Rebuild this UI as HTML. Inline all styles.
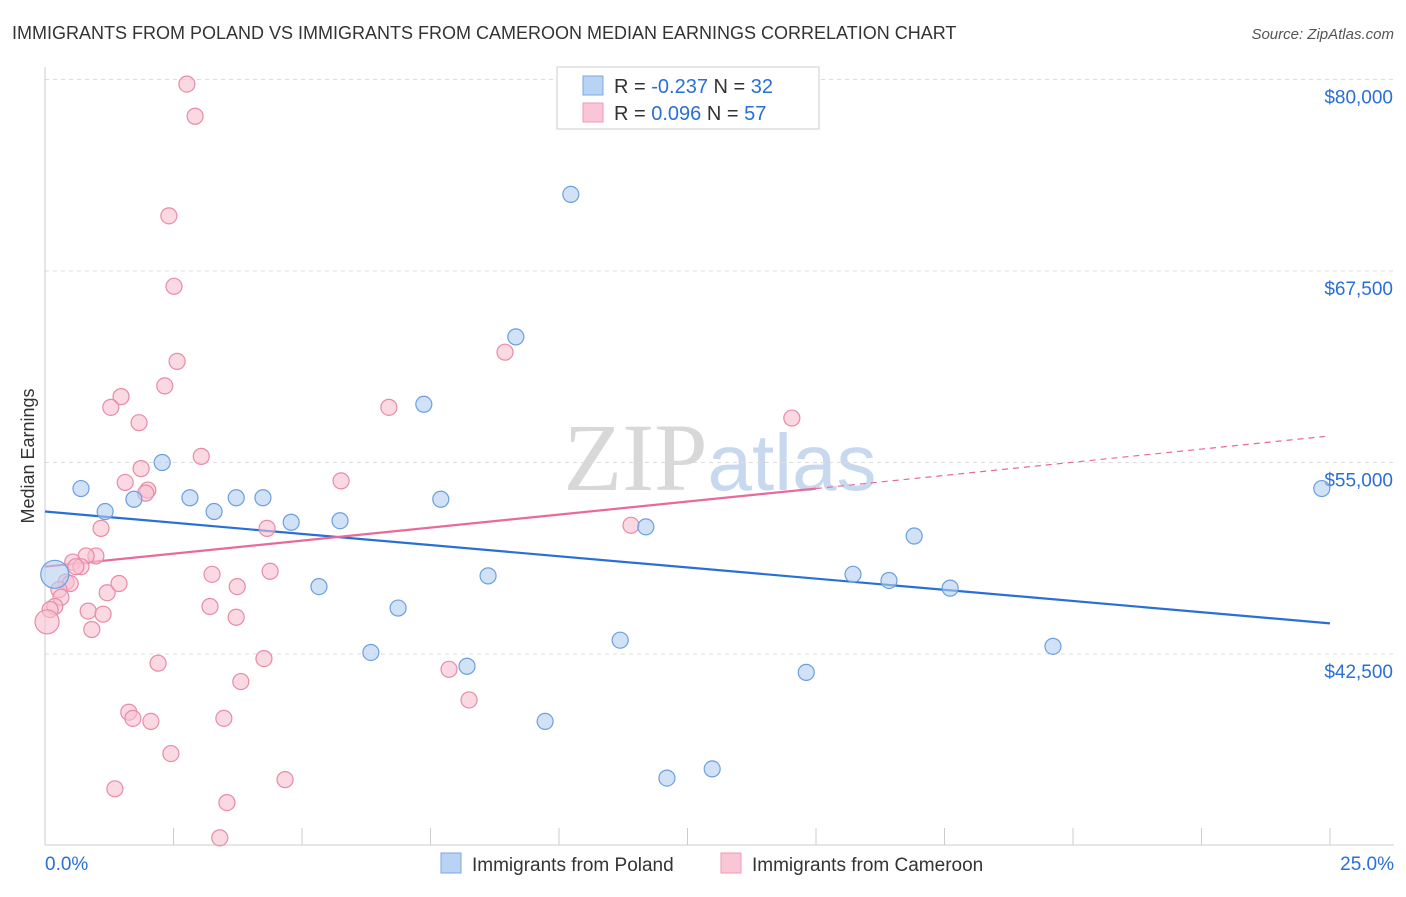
<!DOCTYPE html>
<html><head><meta charset="utf-8"><style>
body{margin:0;background:#fff;font-family:"Liberation Sans",sans-serif;}
svg text{font-family:"Liberation Sans",sans-serif;}
</style></head><body>
<svg id="chart" width="1406" height="892" viewBox="0 0 1406 892" xmlns="http://www.w3.org/2000/svg">
<text x="12" y="39" font-size="18" fill="#333">IMMIGRANTS FROM POLAND VS IMMIGRANTS FROM CAMEROON MEDIAN EARNINGS CORRELATION CHART</text>
<text x="1394" y="39" font-size="15" fill="#555" text-anchor="end" font-style="italic">Source: ZipAtlas.com</text>
<text x="720" y="490" font-size="96" fill="#ddd" text-anchor="middle" font-family="Liberation Serif"><tspan fill="#d8d8d8" font-family="Liberation Serif">ZIP</tspan><tspan fill="#c8d8ee" font-family="Liberation Sans" font-size="80">atlas</tspan></text>
<text transform="translate(34,456) rotate(-90)" font-size="18" fill="#333" text-anchor="middle">Median Earnings</text>
<g id="grid"></g><g id="axes"></g><g id="lines"></g><g id="points"></g>
<g>
<rect x="557" y="67" width="262" height="62" fill="#fff" stroke="#ccc"/>
<rect x="583" y="76" width="20" height="19" fill="#b8d3f4" stroke="#7aa8e4"/>
<rect x="583" y="103" width="20" height="19" fill="#fac6d6" stroke="#ee9ab5"/>
<text x="614" y="93" font-size="20" fill="#333">R = <tspan fill="#2a6fd6">-0.237</tspan>   N = <tspan fill="#2a6fd6">32</tspan></text>
<text x="614" y="120" font-size="20" fill="#333">R =  <tspan fill="#2a6fd6"> 0.096</tspan>   N = <tspan fill="#2a6fd6">57</tspan></text>
</g>
<g>
<rect x="441" y="853" width="20" height="20" fill="#b8d3f4" stroke="#7aa8e4"/>
<text x="472" y="871" font-size="19" fill="#333">Immigrants from Poland</text>
<rect x="721" y="853" width="20" height="20" fill="#fac6d6" stroke="#ee9ab5"/>
<text x="752" y="871" font-size="19" fill="#333">Immigrants from Cameroon</text>
</g>
</svg>
<script>
const yTicks=[42500,55000,67500,80000];
const yTickLabels=["$42,500","$55,000","$67,500","$80,000"];
const xTickLabels=["0.0%","25.0%"];
const polandX=[0.19,0.70,1.17,1.73,2.28,2.82,3.29,3.72,4.24,4.79,5.33,5.74,6.34,6.87,7.37,7.70,8.21,8.62,9.16,9.73,10.23,11.19,11.69,12.10,12.98,14.81,15.72,16.42,16.91,17.61,19.61,24.84];
const polandY=[47700,53300,51800,52600,55000,52700,51800,52700,52700,51100,46900,51200,42600,45500,58800,52600,41700,47600,63200,38100,72500,43400,50800,34400,35000,41300,47700,47300,50200,46800,43000,53300];
const cameroonX=[2.76,2.92,2.41,2.51,2.57,2.33,1.48,1.28,1.83,3.04,1.87,1.56,2.00,1.96,1.09,4.32,5.76,6.69,8.95,14.53,11.40,0.99,0.80,0.54,0.70,0.60,0.41,0.49,0.27,0.31,0.19,0.10,0.04,1.21,1.44,0.84,1.13,0.91,3.25,3.74,4.38,3.21,3.72,4.26,2.20,3.81,1.63,1.71,2.06,3.48,2.45,7.86,8.25,1.36,4.67,3.54,3.40];
const cameroonY=[79700,77600,71100,66500,61600,60000,59300,58600,57600,55400,54600,53700,53200,53000,50700,50700,53800,58600,62200,57900,50900,48900,48900,48500,48200,48200,47200,47100,46700,46200,45600,45400,44600,46500,47100,45300,45100,44100,47700,46900,47900,45600,44900,42200,41900,40700,38700,38300,38100,38300,36000,41500,39500,33700,34300,32800,30500];
const polandTrend=[[0,51800],[25,44500]];
const cameroonTrend=[[0,48200],[15,53300],[24.9,56700]];
const NS="http://www.w3.org/2000/svg";
const xs=p=>45+p*51.4;
const ys=v=>654-(v-42500)*191.5/12500;
function mk(tag,attrs,parent){const e=document.createElementNS(NS,tag);for(const k in attrs)e.setAttribute(k,attrs[k]);document.getElementById(parent).appendChild(e);return e;}
yTicks.forEach((t,i)=>{
 const g=mk('line',{x1:45,x2:1394,y1:ys(t),y2:ys(t),stroke:'#ddd','stroke-dasharray':'4,4'},'grid');
 
 
 const l=mk('text',{x:1393,y:ys(t)+24,'font-size':19,fill:'#2a6fd6','text-anchor':'end'},'axes');
 l.textContent=yTickLabels[i];
 
 
});
const ax=mk('line',{x1:45,x2:1394,y1:845,y2:845,stroke:'#ccc'},'axes');


const ay=mk('line',{x1:45,x2:45,y1:67,y2:845,stroke:'#ccc'},'axes');


for(let i=0;i<=10;i++){
 const t=mk('line',{x1:xs(i*2.5),x2:xs(i*2.5),y1:828,y2:845,stroke:'#ccc'},'axes');
 
 
}
[[0,'start',xTickLabels[0]],[25,'end',xTickLabels[1]]].forEach(a=>{
 const l=mk('text',{x:a[0]==0?45:1394,y:870,'font-size':19,fill:'#2a6fd6','text-anchor':a[1]},'axes');
 l.textContent=a[2];
 
 
});
function dot(x,y,r,fill,stroke,name){
 const c=mk('circle',{cx:xs(x),cy:ys(y),r:r,fill:fill,'fill-opacity':0.6,stroke:stroke,'stroke-width':1.2},'points');
 
 
}
cameroonX.forEach((x,i)=>dot(x,cameroonY[i],i===32?12:8,'#f8bfd0','#e88aa8','cameroon-point'));
polandX.forEach((x,i)=>dot(x,polandY[i],i===0?14:8,'#b3cff2','#6a9fe0','poland-point'));
const bl=mk('line',{x1:xs(polandTrend[0][0]),y1:ys(polandTrend[0][1]),x2:xs(polandTrend[1][0]),y2:ys(polandTrend[1][1]),stroke:'#2a6fd6','stroke-width':2.2},'lines');


const pl=mk('line',{x1:xs(cameroonTrend[0][0]),y1:ys(cameroonTrend[0][1]),x2:xs(cameroonTrend[1][0]),y2:ys(cameroonTrend[1][1]),stroke:'#e8699a','stroke-width':2.2},'lines');


const pd=mk('line',{x1:xs(cameroonTrend[1][0]),y1:ys(cameroonTrend[1][1]),x2:xs(cameroonTrend[2][0]),y2:ys(cameroonTrend[2][1]),stroke:'#e8699a','stroke-width':1.2,'stroke-dasharray':'6,5'},'lines');


</script>
</body></html>
